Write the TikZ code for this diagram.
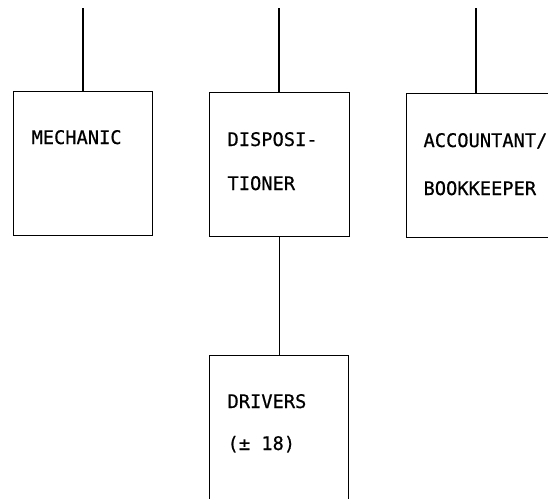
\documentclass[tikz,border=0pt]{standalone}
\usepackage{fontspec}
\setmonofont[FakeBold=0.6]{DejaVu Sans Mono}
\usetikzlibrary{positioning}
\tikzset{
  boite/.style={draw, line width=1.1pt, minimum width=139pt, minimum height=144pt, inner sep=0pt, anchor=north west},
  texte/.style={anchor=base west, inner sep=0pt, font=\ttfamily\fontsize{18.7}{23}\selectfont}
}
\begin{document}
\begin{tikzpicture}[x=1pt, y=-1pt, line width=1.1pt]
    % Cadre de l'image
    \useasboundingbox (0,0) rectangle (548,498);
    \clip (0,0) rectangle (548,498);

    % Les boites
    \node[boite] (mecanicien) at (13,91) {};
    \node[boite, minimum width=140pt] (dispo) at (209,92) {};
    \node[boite, minimum width=190pt] (compta) at (406,93) {};
    \node[boite, minimum height=170pt] (chauffeurs) at (209,355) {};

    % Traits venant du haut
    \coordinate (hautA) at (83,8);
    \coordinate (hautB) at (279,8);
    \coordinate (hautC) at (476,8);
    \draw (hautA) -- (hautA |- mecanicien.north);
    \draw (hautB) -- (hautB |- dispo.north);
    \draw (hautC) -- (hautC |- compta.north);

    % Trait vers les chauffeurs
    \draw (dispo.south) -- (dispo.south |- chauffeurs.north);

    % Textes des boites
    \node[texte] (tMeca) at (31,144) {MECHANIC};
    \node[texte] (tDispoA) at (227,146) {DISPOSI-};
    \node[texte] (tDispoB) at (227,190) {TIONER};
    \node[texte] (tComptaA) at (423,147) {ACCOUNTANT/};
    \node[texte] (tComptaB) at (423,195) {BOOKKEEPER};
    \node[texte] (tChaufA) at (227,408) {DRIVERS};
    \node[texte] (tChaufB) at (227,450) {(± 18)};

\end{tikzpicture}
\end{document}
